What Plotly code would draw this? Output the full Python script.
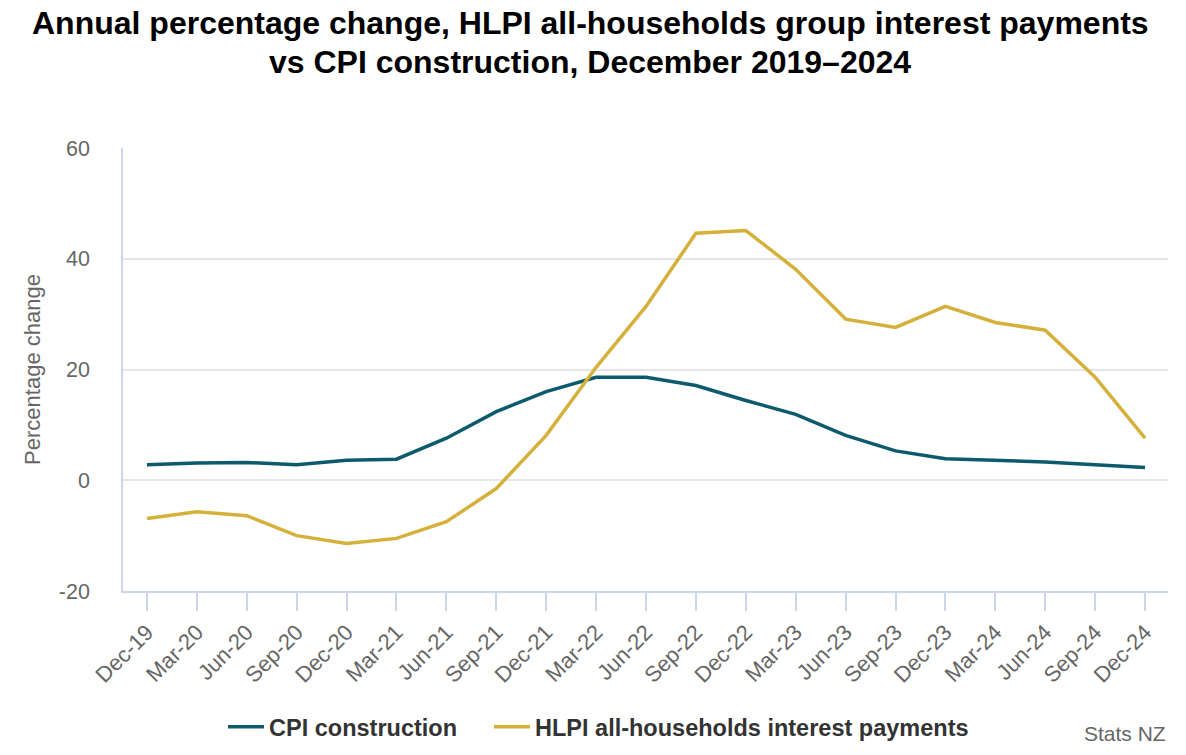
import plotly.graph_objects as go

quarters = ["Dec-19", "Mar-20", "Jun-20", "Sep-20", "Dec-20", "Mar-21", "Jun-21", "Sep-21",
            "Dec-21", "Mar-22", "Jun-22", "Sep-22", "Dec-22", "Mar-23", "Jun-23", "Sep-23",
            "Dec-23", "Mar-24", "Jun-24", "Sep-24", "Dec-24"]
cpi_construction = [2.8, 3.1, 3.2, 2.8, 3.6, 3.8, 7.6, 12.4, 16.0, 18.6, 18.6, 17.1, 14.4,
                    11.9, 8.1, 5.3, 3.9, 3.6, 3.3, 2.8, 2.3]
hlpi_interest = [-6.9, -5.7, -6.4, -10.0, -11.4, -10.5, -7.5, -1.5, 8.1, 20.4, 31.4, 44.6,
                 45.1, 38.1, 29.1, 27.6, 31.4, 28.5, 27.1, 18.6, 7.6]
y_ticks = [-20, 0, 20, 40, 60]
y_tick_labels = ["-20", "0", "20", "40", "60"]
title_lines = ["Annual percentage change, HLPI all-households group interest payments",
               "vs CPI construction, December 2019–2024"]

FONT = "Liberation Sans, Arial, sans-serif"
fig = go.Figure()
fig.add_trace(go.Scatter(x=quarters, y=cpi_construction, mode="lines", name="<b>CPI construction</b>",
                         line=dict(color="#0d5a6d", width=3.5), legend="legend"))
fig.add_trace(go.Scatter(x=quarters, y=hlpi_interest, mode="lines",
                         name="<b>HLPI all-households interest payments</b>",
                         line=dict(color="#d5b13b", width=3.5), legend="legend2"))

legend_style = dict(orientation="h", y=-0.307, yanchor="middle", xanchor="left",
                    font=dict(size=23.5, color="#333333", family=FONT), itemwidth=36)
fig.update_layout(
    width=1186, height=755,
    paper_bgcolor="white", plot_bgcolor="white",
    margin=dict(l=123, r=18, t=148, b=164, autoexpand=False),
    font=dict(family=FONT, color="#666666"),
    showlegend=True,
    legend=dict(x=(223 - 123) / 1045, **legend_style),
    legend2=dict(x=(489 - 123) / 1045, **legend_style),
    xaxis=dict(type="category", range=[-0.48, 20.46], showgrid=False,
               showline=True, linecolor="#ccd6eb", linewidth=1.5,
               ticks="outside", ticklen=18, tickcolor="#ccd6eb", tickwidth=1.5,
               tickangle=-45, tickfont=dict(size=22, color="#666666"), zeroline=False),
    yaxis=dict(range=[-20, 60], tickvals=y_ticks, ticktext=y_tick_labels, showgrid=True,
               gridcolor="#e6e6e6", gridwidth=1.5, showline=True, linecolor="#ccd6eb",
               linewidth=1.5, zeroline=False, tickfont=dict(size=21.5, color="#666666"),
               ticks="", ticklabelstandoff=27,
               title=dict(text="Percentage change", font=dict(size=22, color="#666666"),
                          standoff=12)),
)
fig.add_annotation(text="<b>" + title_lines[0] + "</b>", xref="paper", yref="paper",
                   x=(590 - 123) / 1045, xanchor="center", y=(591 - 23) / 443, yanchor="middle",
                   showarrow=False, font=dict(size=32, color="#000000", family=FONT))
fig.add_annotation(text="<b>" + title_lines[1] + "</b>", xref="paper", yref="paper",
                   x=(590 - 123) / 1045, xanchor="center", y=(591 - 62) / 443, yanchor="middle",
                   showarrow=False, font=dict(size=32, color="#000000", family=FONT))
fig.add_annotation(text="Stats NZ", xref="paper", yref="paper", x=1.0, xanchor="right",
                   y=(591 - 733) / 443, yanchor="middle", showarrow=False,
                   font=dict(size=21, color="#666666", family=FONT))
fig.write_html("out.html", config={"displayModeBar": False},
               post_script="document.body.style.margin='0';")
